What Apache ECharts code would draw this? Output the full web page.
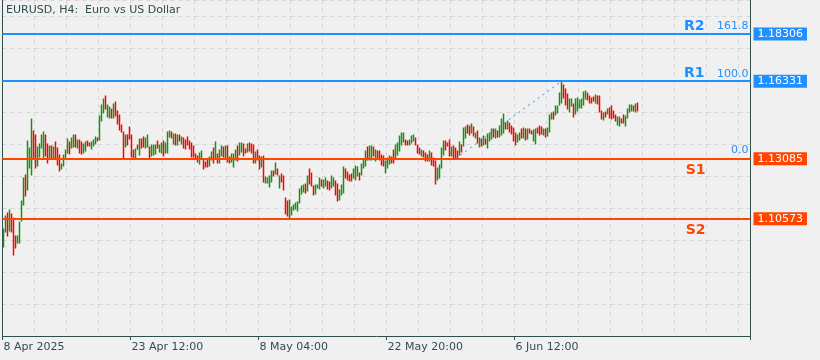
<!DOCTYPE html>
<html><head><meta charset="utf-8">
<script src="https://cdn.jsdelivr.net/npm/echarts@6/dist/echarts.min.js"></script>
<style>html,body{margin:0;padding:0;background:#f0f0f0;}#c{width:820px;height:360px;}</style>
</head><body><div id="c"></div>
<script>
const chartTitle = 'EURUSD, H4:  Euro vs US Dollar';
const tickLabels = ['8 Apr 2025', '23 Apr 12:00', '8 May 04:00', '22 May 20:00', '6 Jun 12:00'];
const barsPerTick = 64;
const barsPerGrid = 16;
const slotCount = 374;
const priceMin = 1.05667, priceMax = 1.19729;

const highs = [
1.1015,1.1069,1.1082,1.1094,1.1077,1.1061,1.0985,1.0985,1.1044,1.1132,
1.1228,1.1241,1.1383,1.1354,1.1475,1.1425,1.1408,1.1358,1.1370,1.1408,
1.1421,1.1408,1.1370,1.1362,1.1362,1.1358,1.1379,1.1354,1.1324,1.1287,
1.1324,1.1345,1.1391,1.1379,1.1395,1.1408,1.1408,1.1387,1.1387,1.1379,
1.1370,1.1379,1.1383,1.1374,1.1379,1.1387,1.1400,1.1395,1.1487,1.1534,
1.1559,1.1571,1.1534,1.1525,1.1517,1.1538,1.1546,1.1508,1.1492,1.1450,
1.1421,1.1408,1.1408,1.1441,1.1408,1.1345,1.1349,1.1366,1.1391,1.1391,
1.1400,1.1395,1.1408,1.1358,1.1366,1.1366,1.1366,1.1383,1.1366,1.1374,
1.1383,1.1374,1.1421,1.1425,1.1421,1.1412,1.1412,1.1408,1.1408,1.1400,
1.1395,1.1387,1.1400,1.1383,1.1374,1.1362,1.1328,1.1320,1.1333,1.1341,
1.1308,1.1295,1.1308,1.1316,1.1337,1.1354,1.1379,1.1328,1.1345,1.1362,
1.1358,1.1362,1.1362,1.1316,1.1328,1.1328,1.1345,1.1362,1.1374,1.1374,
1.1370,1.1349,1.1370,1.1374,1.1370,1.1366,1.1337,1.1345,1.1320,1.1316,
1.1320,1.1232,1.1228,1.1236,1.1257,1.1257,1.1291,1.1266,1.1236,1.1245,
1.1236,1.1144,1.1132,1.1136,1.1107,1.1115,1.1123,1.1128,1.1182,1.1195,
1.1199,1.1203,1.1236,1.1266,1.1249,1.1195,1.1199,1.1199,1.1228,1.1220,
1.1220,1.1228,1.1215,1.1211,1.1236,1.1228,1.1215,1.1203,1.1178,1.1199,
1.1274,1.1266,1.1253,1.1241,1.1245,1.1266,1.1278,1.1274,1.1249,1.1287,
1.1303,1.1341,1.1358,1.1362,1.1362,1.1358,1.1345,1.1341,1.1341,1.1324,
1.1320,1.1299,1.1312,1.1320,1.1316,1.1345,1.1366,1.1374,1.1404,1.1416,
1.1416,1.1387,1.1383,1.1387,1.1404,1.1408,1.1395,1.1366,1.1354,1.1345,
1.1341,1.1333,1.1324,1.1341,1.1333,1.1312,1.1299,1.1270,1.1282,1.1354,
1.1383,1.1383,1.1374,1.1387,1.1358,1.1362,1.1354,1.1341,1.1379,1.1366,
1.1437,1.1441,1.1450,1.1446,1.1454,1.1441,1.1416,1.1425,1.1395,1.1391,
1.1404,1.1391,1.1412,1.1416,1.1433,1.1433,1.1433,1.1425,1.1446,1.1475,
1.1496,1.1458,1.1467,1.1458,1.1446,1.1437,1.1416,1.1408,1.1416,1.1433,
1.1437,1.1433,1.1433,1.1433,1.1425,1.1429,1.1433,1.1437,1.1446,1.1441,
1.1433,1.1433,1.1437,1.1492,1.1500,1.1504,1.1529,1.1529,1.1584,1.1633,
1.1617,1.1600,1.1580,1.1559,1.1559,1.1538,1.1559,1.1563,1.1554,1.1559,
1.1588,1.1592,1.1584,1.1571,1.1563,1.1567,1.1575,1.1571,1.1571,1.1508,
1.1500,1.1504,1.1517,1.1521,1.1529,1.1508,1.1492,1.1483,1.1483,1.1475,
1.1492,1.1487,1.1517,1.1534,1.1534,1.1529,1.1538,1.1542
];
const lows = [
1.0939,1.1002,1.0985,1.1006,1.1002,1.0906,1.0935,1.0956,1.0956,1.1048,
1.1115,1.1153,1.1178,1.1270,1.1241,1.1308,1.1270,1.1278,1.1316,1.1354,
1.1312,1.1320,1.1291,1.1312,1.1312,1.1308,1.1312,1.1282,1.1257,1.1266,
1.1278,1.1312,1.1333,1.1328,1.1354,1.1358,1.1358,1.1354,1.1333,1.1328,
1.1333,1.1341,1.1362,1.1362,1.1349,1.1362,1.1370,1.1383,1.1387,1.1467,
1.1500,1.1517,1.1483,1.1479,1.1479,1.1479,1.1487,1.1454,1.1429,1.1421,
1.1312,1.1358,1.1366,1.1391,1.1316,1.1312,1.1312,1.1349,1.1324,1.1354,
1.1358,1.1354,1.1358,1.1308,1.1320,1.1324,1.1328,1.1354,1.1337,1.1333,
1.1320,1.1333,1.1333,1.1400,1.1395,1.1370,1.1366,1.1366,1.1383,1.1370,
1.1354,1.1349,1.1366,1.1349,1.1316,1.1316,1.1312,1.1295,1.1287,1.1308,
1.1266,1.1274,1.1274,1.1278,1.1303,1.1291,1.1308,1.1291,1.1291,1.1320,
1.1316,1.1312,1.1295,1.1291,1.1295,1.1274,1.1303,1.1299,1.1324,1.1337,
1.1320,1.1333,1.1337,1.1341,1.1333,1.1291,1.1291,1.1303,1.1266,1.1274,
1.1211,1.1207,1.1207,1.1190,1.1211,1.1236,1.1245,1.1241,1.1186,1.1211,
1.1178,1.1077,1.1069,1.1061,1.1073,1.1094,1.1098,1.1090,1.1123,1.1161,
1.1169,1.1165,1.1174,1.1203,1.1195,1.1157,1.1161,1.1186,1.1182,1.1195,
1.1186,1.1195,1.1182,1.1178,1.1186,1.1195,1.1157,1.1132,1.1136,1.1157,
1.1165,1.1228,1.1220,1.1215,1.1215,1.1228,1.1220,1.1236,1.1220,1.1241,
1.1270,1.1278,1.1303,1.1303,1.1303,1.1320,1.1299,1.1308,1.1303,1.1282,
1.1278,1.1249,1.1270,1.1287,1.1291,1.1291,1.1312,1.1324,1.1341,1.1366,
1.1379,1.1366,1.1366,1.1366,1.1374,1.1383,1.1366,1.1333,1.1328,1.1320,
1.1316,1.1299,1.1299,1.1299,1.1282,1.1278,1.1203,1.1220,1.1228,1.1270,
1.1324,1.1345,1.1362,1.1320,1.1320,1.1312,1.1309,1.1312,1.1324,1.1337,
1.1362,1.1395,1.1416,1.1408,1.1416,1.1404,1.1395,1.1374,1.1358,1.1362,
1.1366,1.1370,1.1354,1.1383,1.1391,1.1400,1.1395,1.1400,1.1400,1.1408,
1.1416,1.1433,1.1433,1.1421,1.1412,1.1383,1.1366,1.1379,1.1387,1.1395,
1.1395,1.1387,1.1391,1.1416,1.1412,1.1383,1.1370,1.1416,1.1408,1.1412,
1.1408,1.1400,1.1404,1.1421,1.1475,1.1475,1.1492,1.1500,1.1534,1.1542,
1.1563,1.1534,1.1517,1.1504,1.1529,1.1483,1.1496,1.1508,1.1521,1.1521,
1.1534,1.1559,1.1554,1.1542,1.1542,1.1550,1.1542,1.1538,1.1504,1.1475,
1.1471,1.1483,1.1496,1.1479,1.1475,1.1479,1.1467,1.1450,1.1446,1.1458,
1.1458,1.1446,1.1479,1.1504,1.1508,1.1508,1.1504,1.1508
];
const bullish = [
1,1,0,1,0,0,0,1,1,1, 1,0,1,1,1,0,0,1,1,1, 1,0,0,1,0,1,0,0,0,1, 1,1,1,0,1,1,0,1,0,0,
1,1,0,0,1,1,1,0,1,1, 1,0,1,1,0,1,0,0,0,0, 0,1,0,0,0,0,1,0,1,0, 0,1,1,0,1,1,1,0,1,1,
0,1,1,1,0,1,0,1,0,1, 0,0,0,0,0,0,0,0,1,1, 0,0,0,1,1,0,1,0,1,1, 0,1,0,0,1,1,1,0,1,1,
0,0,1,0,0,0,1,0,0,1, 0,1,1,1,1,0,1,0,1,0, 0,0,0,1,1,1,1,1,1,1, 1,0,1,0,0,0,1,1,1,0,
1,1,0,0,1,1,0,0,1,1, 1,0,0,0,0,1,1,1,0,1, 1,1,0,1,1,0,1,0,0,0, 0,1,1,1,0,0,1,1,1,1,
1,0,0,1,1,1,0,0,0,1, 0,0,0,1,0,0,0,1,1,1, 1,0,0,0,1,0,0,0,1,0, 1,1,0,0,1,0,1,0,1,0,
1,0,1,1,1,0,1,0,1,1, 1,0,1,0,0,0,0,1,1,0, 1,0,1,0,0,1,1,0,0,0, 1,0,1,1,1,0,1,1,1,1,
0,0,0,1,1,0,1,1,1,1, 1,1,0,0,0,0,1,0,0,0, 1,0,1,0,0,0,0,1,1,0, 0,1,1,1,1,0,1,0
];

const levelNames  = ['R2', 'R1', 'S1', 'S2'];
const levelPrices = [1.18306, 1.16331, 1.13085, 1.10573];
const fibLevelTexts = ['161.8', '100.0', '0.0'];
const fibAnchorBars = [226, 279];
const fibAnchorPrices = [1.13085, 1.16331];

const BLUE = '#1e90ff', ORANGE = '#ff4500', FRAME = '#2f4f4f', GRID = '#d6d6d6';
const UP = '#139213', DOWN = '#ff0000';
const FONT = 'DejaVu Sans';
const CLEAR = 'rgba(0,0,0,0)';

const slots = Array.from({length: slotCount}, (_, i) => i);
const barData = highs.map((h, i) => [i, lows[i], h, bullish[i]]);

const lineItems = [];
levelNames.forEach((name, k) => {
  const isR = name[0] === 'R';
  const col = isR ? BLUE : ORANGE;
  const price = levelPrices[k];
  lineItems.push({ yAxis: price, lineStyle: {color: col, width: 2, type: 'solid'},
    label: {show: true, position: 'end', distance: 3, formatter: price.toFixed(5),
      backgroundColor: col, color: '#ffffff', padding: [1, 4, 0, 4], fontFamily: FONT, fontSize: 11, lineHeight: 12}});
  if (isR) {
    lineItems.push({ yAxis: price, lineStyle: {color: CLEAR, width: 0},
      label: {show: true, position: 'insideEndTop', distance: [2, 1], color: col,
        formatter: '{n|' + name + '}{v|' + fibLevelTexts[k] + '}',
        rich: {n: {fontFamily: FONT, fontWeight: 'bold', fontSize: 14, color: col, verticalAlign: 'bottom'},
               v: {fontFamily: FONT, fontSize: 11, color: col, width: 44, align: 'right', verticalAlign: 'bottom', padding: [0,0,1,0]}}}});
  } else {
    lineItems.push({ yAxis: price, lineStyle: {color: CLEAR, width: 0},
      label: {show: true, position: 'insideEndBottom', distance: [2, 5], color: col,
        formatter: '{n|' + name + '}{g| }',
        rich: {n: {fontFamily: FONT, fontWeight: 'bold', fontSize: 14, color: col}, g: {width: 43}}}});
  }
});
// fib 0.0 sits on the S1 level
lineItems.push({ yAxis: fibAnchorPrices[0], lineStyle: {color: CLEAR, width: 0},
  label: {show: true, position: 'insideEndTop', distance: [2, 3], formatter: fibLevelTexts[2],
    fontFamily: FONT, fontSize: 11, color: BLUE}});
lineItems.push([
  {coord: [fibAnchorBars[0], fibAnchorPrices[0]], lineStyle: {color: BLUE, width: 1, type: [2, 4]}, label: {show: false}},
  {coord: [fibAnchorBars[1], fibAnchorPrices[1]]}
]);

const chart = echarts.init(document.getElementById('c'), null, {renderer: 'canvas'});
chart.setOption({
  backgroundColor: '#f0f0f0',
  animation: false,
  title: {text: chartTitle, left: 6, top: 5, padding: 0,
    textStyle: {fontFamily: FONT, fontSize: 11, fontWeight: 'normal', color: FRAME}},
  grid: {left: 2.5, top: 0, width: 748, height: 336, show: false},
  xAxis: {type: 'category', data: slots, boundaryGap: true,
    axisLine: {show: true, lineStyle: {color: FRAME, width: 1}},
    axisTick: {show: true, alignWithLabel: false, length: 4,
      interval: (i) => i % barsPerTick === 0 && i / barsPerTick < tickLabels.length, lineStyle: {color: FRAME}},
    axisLabel: {show: true, interval: (i) => i % barsPerTick === 0 && i / barsPerTick < tickLabels.length,
      formatter: (v) => tickLabels[Math.round(v / barsPerTick)] || '',
      align: 'left', margin: 6, color: FRAME, fontFamily: FONT, fontSize: 11},
    splitLine: {show: true, interval: (i) => i % barsPerGrid === 0 && i > 0, lineStyle: {color: GRID, type: [4, 4]}}
  },
  yAxis: [
    {type: 'value', min: priceMin, max: priceMax, position: 'left', scale: true,
      axisLine: {show: true, lineStyle: {color: FRAME, width: 1}},
      axisLabel: {show: false}, axisTick: {show: false}, splitLine: {show: false}},
    {type: 'value', min: 0, max: 10.5, interval: 1, position: 'right',
      axisLine: {show: true, lineStyle: {color: FRAME, width: 1}},
      axisLabel: {show: false}, axisTick: {show: false},
      splitLine: {show: true, lineStyle: {color: GRID, type: [4, 4]}}}
  ],
  series: [{
    type: 'custom', data: barData, xAxisIndex: 0, yAxisIndex: 0,
    encode: {x: 0, y: [1, 2]}, silent: true, clip: true,
    renderItem: (params, api) => {
      const lo = api.coord([api.value(0), api.value(1)]);
      const hi = api.coord([api.value(0), api.value(2)]);
      const x = Math.floor(lo[0]) + 0.5;
      return {type: 'line', silent: true,
        shape: {x1: x, y1: Math.round(lo[1]) + 0.5, x2: x, y2: Math.round(hi[1]) - 0.5},
        style: {stroke: api.value(3) ? UP : DOWN, lineWidth: 1.5}};
    },
    markLine: {silent: true, symbol: ['none', 'none'], animation: false, precision: 5, data: lineItems}
  }]
});
</script></body></html>
